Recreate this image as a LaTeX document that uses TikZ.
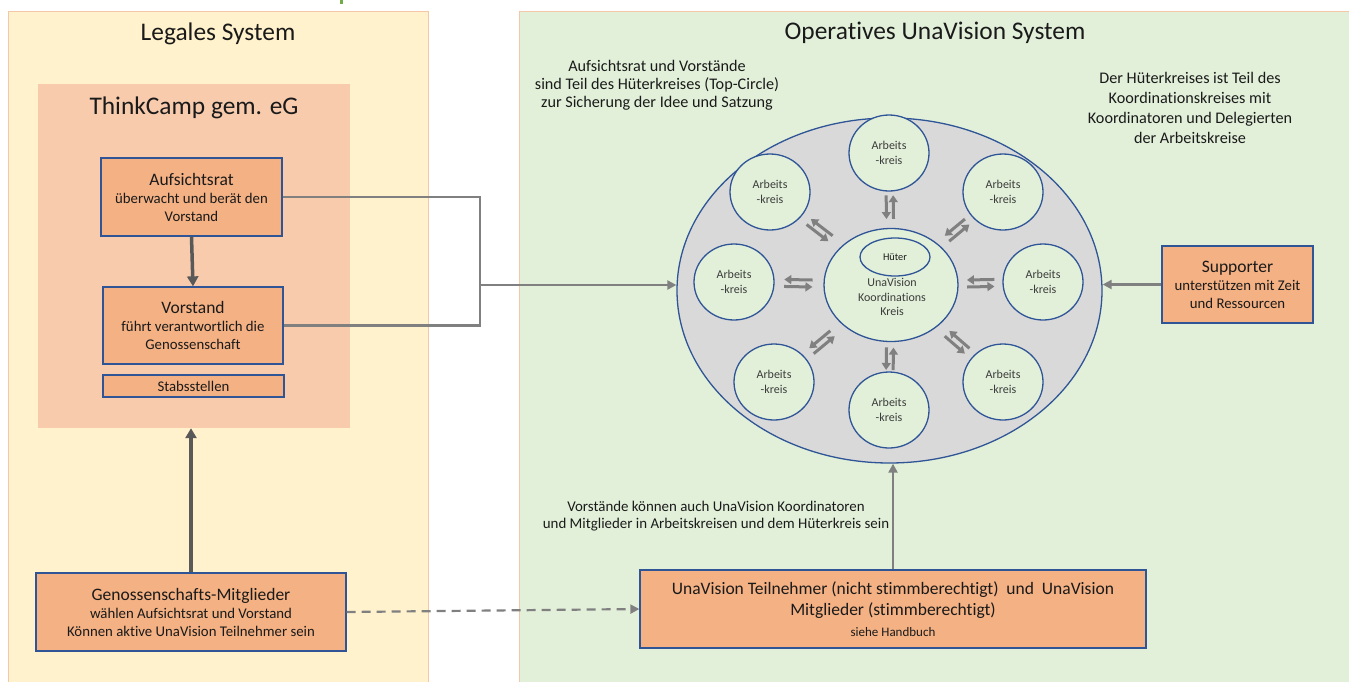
\documentclass[tikz,border=0pt]{standalone}
\usepackage{fontspec}
\setmainfont{Carlito}[Ligatures=NoCommon]
\usetikzlibrary{arrows.meta,shapes.geometric,calc}

\definecolor{panelgelb}{HTML}{FFF2CC}
\definecolor{panelgruen}{HTML}{E2F0D9}
\definecolor{panelrand}{HTML}{F4C7A8}
\definecolor{tcfarbe}{HTML}{F8CBAD}
\definecolor{boxfarbe}{HTML}{F4B183}
\definecolor{blaurand}{HTML}{2F5597}
\definecolor{kreisgrau}{HTML}{D9D9D9}
\definecolor{pfeilgrau}{HTML}{808080}
\definecolor{dunkelgrau}{HTML}{595959}
\definecolor{akzentgruen}{HTML}{70AD47}
\definecolor{textfarbe}{HTML}{1A1A1A}

\newcommand{\kopf}[1]{{\fontsize{17.5}{21}\selectfont #1}}

\tikzset{
  orgbox/.style={rectangle, draw=blaurand, line width=1.3pt, fill=boxfarbe, align=center,
    inner sep=0pt, text=textfarbe, font=\fontsize{14.8}{18}\selectfont},
  kreis/.style={ellipse, draw=blaurand, line width=1.3pt, fill=panelgruen, minimum width=80pt,
    minimum height=76pt, inner sep=0pt, align=center, text=textfarbe!85,
    font=\fontsize{12}{14.3}\selectfont},
  grauline/.style={draw=pfeilgrau, line width=2.2pt},
  graupfeil/.style={grauline, -{Triangle[length=9pt,width=9pt]}},
  dickpfeil/.style={draw=dunkelgrau, line width=3.5pt, -{Triangle[length=10pt,width=11pt]}},
  doppelpfeil/.style={draw=pfeilgrau, line width=3pt, -{Triangle[length=7pt,width=9pt]}},
  titel/.style={text=textfarbe, font=\fontsize{25.4}{30}\selectfont},
  notiz/.style={align=center, text=textfarbe, font=\fontsize{16.2}{18}\selectfont},
}

\begin{document}
\begin{tikzpicture}[x=1pt,y=-1pt]
    \useasboundingbox (0,0) rectangle (1349,681);
    \fill[white] (0,0) rectangle (1349,681);

    % Panels
    \filldraw[fill=panelgelb, draw=panelrand, line width=1pt] (8,11) rectangle (428,684);
    \filldraw[fill=panelgruen, draw=panelrand, line width=1pt] (519,11) rectangle (1352,684);
    \fill[akzentgruen] (339.5,-1) rectangle (342.5,3.5);
    \node[titel] (legal) at (218,34) {Legales System};
    \node[titel] (opera) at (935,33) {Operatives UnaVision System};

    % ThinkCamp
    \node[fill=tcfarbe, minimum width=312pt, minimum height=344pt, inner sep=0pt] (tc) at (194,256) {};
    \node[titel] (tct) at (194,108) {ThinkCamp gem. eG};
    \node[orgbox, minimum width=181pt, minimum height=78pt] (auf) at (191.5,197)
        {\kopf{Aufsichtsrat}\\überwacht und berät den\\Vorstand};
    \node[orgbox, minimum width=180pt, minimum height=77pt] (vor) at (193,325.5)
        {\kopf{Vorstand}\\führt verantwortlich die\\Genossenschaft};
    \node[orgbox, minimum width=181pt, minimum height=22pt] (stab) at (193.5,386) {Stabsstellen};
    \draw[dickpfeil] (auf.south) -- (vor.north);

    % Mitglieder
    \node[orgbox, minimum width=310pt, minimum height=78pt] (gen) at (191,612)
        {\kopf{Genossenschafts-Mitglieder}\\wählen Aufsichtsrat und Vorstand\\Können aktive UnaVision Teilnehmer sein};
    \draw[dickpfeil] (gen.north) -- (gen.north |- tc.south);

    % Operatives System
    \node[ellipse, draw=blaurand, line width=1.3pt, fill=kreisgrau, minimum width=425pt,
        minimum height=345pt, inner sep=0pt] (big) at (889.5,290.5) {};
    \node[ellipse, draw=blaurand, line width=1.3pt, fill=panelgruen, minimum width=134pt,
        minimum height=113pt, inner sep=0pt] (core) at (891,285) {};
    \node[ellipse, draw=blaurand, line width=1.3pt, minimum width=70pt, minimum height=38pt,
        inner sep=0pt, text=textfarbe, font=\fontsize{10.3}{12}\selectfont] (hut) at (895,257) {Hüter};
    \node[align=center, text=textfarbe!85, font=\fontsize{12}{14.3}\selectfont] (coret) at (892,297)
        {UnaVision\\Koordinations\\Kreis};
    \foreach \n/\x/\y in {1/889/153, 2/1003/192, 3/1043/282, 4/1003/382,
                          5/889/410, 6/774/382, 7/734/282, 8/770/192} {
        \node[kreis] (ak\n) at (\x,\y) {Arbeits\\-kreis};
        \draw[doppelpfeil] ($(core)!0.5!(ak\n)!3.5pt!-90:(ak\n)$) -- ($(core)!0.68!(ak\n)!3.5pt!-90:(ak\n)$);
        \draw[doppelpfeil] ($(core)!0.68!(ak\n)!3.5pt!90:(ak\n)$) -- ($(core)!0.5!(ak\n)!3.5pt!90:(ak\n)$);
    }

    % Verbindung Legal -> Operativ
    \coordinate (junc) at (480,285);
    \draw[grauline] (auf.east) -| (junc) |- (vor.east);
    \draw[graupfeil] (junc) -- (junc -| big.west);

    % Supporter
    \node[orgbox, minimum width=151pt, minimum height=77pt] (sup) at (1237.5,284.5)
        {\kopf{Supporter}\\unterstützen mit Zeit\\und Ressourcen};
    \draw[graupfeil] (sup.west) -- (sup.west -| big.east);

    % Teilnehmer
    \node[orgbox, minimum width=506pt, minimum height=78pt, font=\fontsize{17.5}{21}\selectfont] (una) at (893,609)
        {UnaVision Teilnehmer (nicht stimmberechtigt)\ \ und\ \ UnaVision\\Mitglieder (stimmberechtigt)\\{\fontsize{13}{15}\selectfont siehe Handbuch}};
    \draw[graupfeil] (una.north) -- (una.north |- big.south);
    \draw[graupfeil, dashed, dash pattern=on 9pt off 6pt] (gen.east) -- (una.west);

    % Annotations
    \node[notiz] (n1) at (657,85) {Aufsichtsrat und Vorstände\\sind Teil des Hüterkreises (Top-Circle)\\zur Sicherung der Idee und Satzung};
    \node[notiz, font=\fontsize{16.2}{20}\selectfont] (n2) at (1190,108)
        {Der Hüterkreises ist Teil des\\Koordinationskreises mit\\Koordinatoren und Delegierten\\der Arbeitskreise};
    \node[notiz, font=\fontsize{14.9}{17.5}\selectfont] (n3) at (716,516)
        {Vorstände können auch UnaVision Koordinatoren\\und Mitglieder in Arbeitskreisen und dem Hüterkreis sein};
\end{tikzpicture}
\end{document}
